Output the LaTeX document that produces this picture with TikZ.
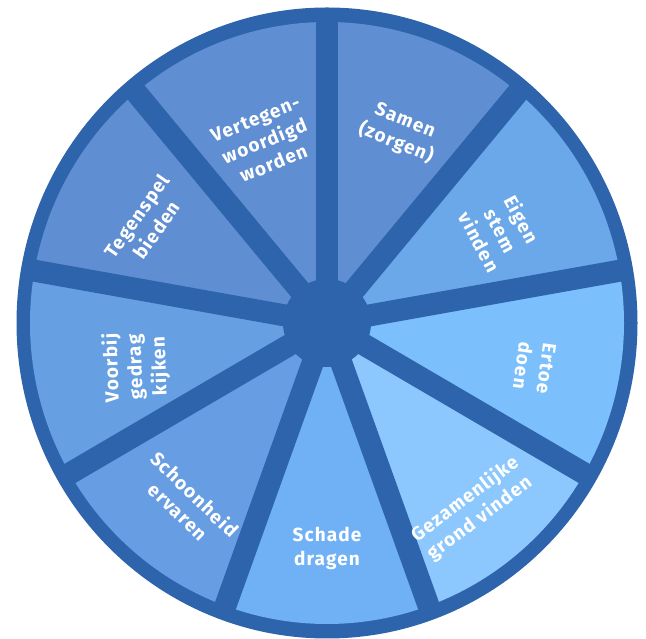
\documentclass[tikz,border=0pt]{standalone}
\usepackage{fontspec}
\setmainfont{Fira Sans}[LetterSpace=6]
\usepackage{xcolor}
\usepackage{tikz}
\usetikzlibrary{calc}

\definecolor{ringblue}{HTML}{2E64AB}
\definecolor{segmid}{HTML}{5F8ED2}
\definecolor{segeigen}{HTML}{6AA8EA}
\definecolor{segerbij}{HTML}{7BBFFD}
\definecolor{seggrond}{HTML}{8CC8FD}
\definecolor{segschade}{HTML}{70B1F5}
\definecolor{segschoon}{HTML}{679DE2}
\definecolor{segvoorbij}{HTML}{66A0E3}

\tikzset{
  seglabel/.style={text=white, align=center, inner sep=0pt,
    font=\fontsize{19}{24}\selectfont\bfseries}
}

\begin{document}
\begin{tikzpicture}[x=1pt, y=1pt]
    \useasboundingbox (0,0) rectangle (646,639);
    \coordinate (c) at (327,316);

    % Outer ring
    \fill[ringblue] (c) ellipse[x radius=310.5, y radius=315.5];

    % Segments
    \foreach \a/\col in {90/segmid, 50/segmid, 10/segeigen, -30/segerbij,
        -70/seggrond, -110/segschade, -150/segschoon, 170/segvoorbij, 130/segmid}
        \fill[\col] (c) -- ++(\a:297 and 301)
            arc[start angle=\a, end angle=\a+40, x radius=297, y radius=301] -- cycle;

    % Spokes and hub
    \foreach \a in {90,50,...,-230}
        \draw[ringblue, line width=22pt] (c) -- ++(\a:302 and 306);
    \fill[ringblue] (c) circle[radius=44];

    % Labels
    \node[seglabel, rotate=22] (vertegen) at ($(c)+(109:192)$) {Vertegen-\\woordigd\\worden};
    \node[seglabel, rotate=-22] (samen) at ($(c)+(69:204)$) {Samen\\(zorgen)};
    \node[seglabel, rotate=-62] (eigen) at ($(c)+(28:197)$) {Eigen\\stem\\vinden};
    \node[seglabel, rotate=-98] (ertoe) at ($(c)+(-12:212)$) {Ertoe\\doen};
    \node[seglabel, rotate=37] (grond) at ($(c)+(-52:236)$) {Gezamenlijke\\grond vinden};
    \node[seglabel] (schade) at ($(c)+(-90:225)$) {Schade\\dragen};
    \node[seglabel, rotate=-44] (schoon) at ($(c)+(-128:228)$) {Schoonheid\\ervaren};
    \node[seglabel, rotate=92] (voorbij) at ($(c)+(193:196)$) {Voorbij\\gedrag\\kijken};
    \node[seglabel, rotate=55] (tegenspel) at ($(c)+(151:206)$) {Tegenspel\\bieden};
\end{tikzpicture}
\end{document}
